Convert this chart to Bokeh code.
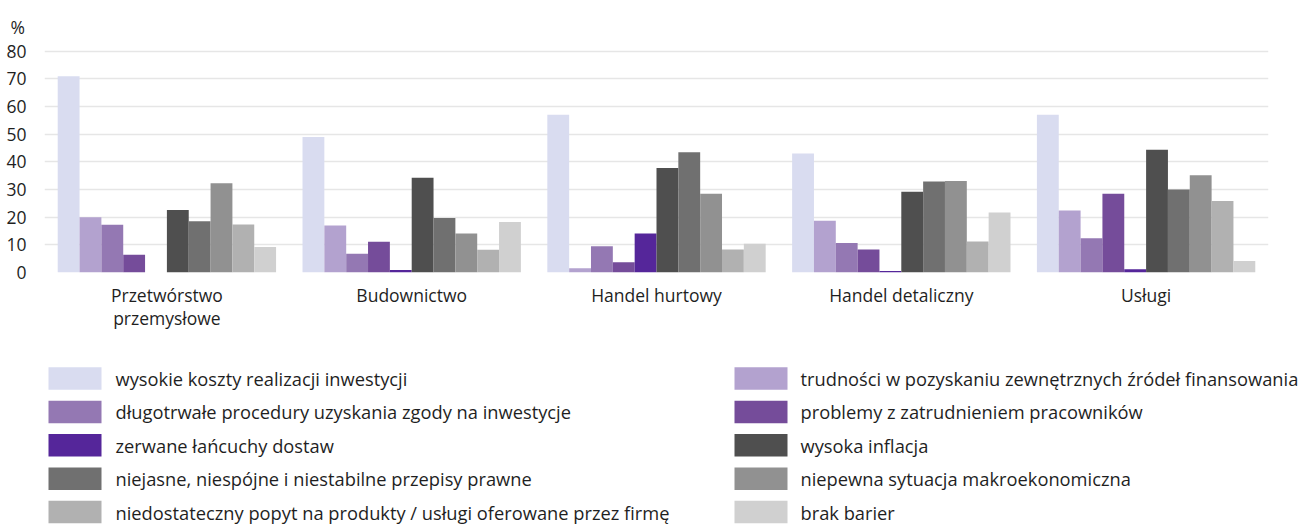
from bokeh.plotting import figure
from bokeh.models import ColumnDataSource, FactorRange, Range1d, FixedTicker
from bokeh.transform import dodge
from bokeh.layouts import column
from bokeh.core.properties import value
from bokeh.embed import file_html
from bokeh.resources import INLINE

# ---------------- data ----------------
categories = ["Przetwórstwo\nprzemysłowe", "Budownictwo", "Handel hurtowy",
              "Handel detaliczny", "Usługi"]

wysokie_koszty = [71, 49, 57, 43, 57]
trudnosci_finansowanie = [20, 17, 1.5, 18.7, 22.4]
dlugotrwale_procedury = [17.3, 6.8, 9.5, 10.7, 12.4]
problemy_zatrudnienie = [6.4, 11.1, 3.7, 8.3, 28.5]
zerwane_lancuchy = [0, 0.9, 14.1, 0.5, 1.2]
wysoka_inflacja = [22.6, 34.3, 37.8, 29.2, 44.4]
niejasne_przepisy = [18.5, 19.7, 43.5, 32.9, 30.0]
niepewna_sytuacja = [32.3, 14.1, 28.5, 33.1, 35.2]
niedostateczny_popyt = [17.4, 8.2, 8.3, 11.2, 25.9]
brak_barier = [9.2, 18.3, 10.4, 21.7, 4.2]

series_labels = [
    "wysokie koszty realizacji inwestycji",
    "trudności w pozyskaniu zewnętrznych źródeł finansowania",
    "długotrwałe procedury uzyskania zgody na inwestycje",
    "problemy z zatrudnieniem pracowników",
    "zerwane łańcuchy dostaw",
    "wysoka inflacja",
    "niejasne, niespójne i niestabilne przepisy prawne",
    "niepewna sytuacja makroekonomiczna",
    "niedostateczny popyt na produkty / usługi oferowane przez firmę",
    "brak barier",
]
series_values = [wysokie_koszty, trudnosci_finansowanie, dlugotrwale_procedury,
                 problemy_zatrudnienie, zerwane_lancuchy, wysoka_inflacja,
                 niejasne_przepisy, niepewna_sytuacja, niedostateczny_popyt,
                 brak_barier]
colors = ["#d9dcf0", "#b3a2cf", "#9478b3", "#754c9a", "#55269a",
          "#4f4f4f", "#707070", "#919191", "#b1b1b1", "#d0d0d0"]

y_ticks = [0, 10, 20, 30, 40, 50, 60, 70, 80]

FONT = "Open Sans"
FS = "17.5px"
FS_LEG = "18.3px"
TXT = "#1f1f1f"
W = 1299
H_TOTAL = 524
H1 = 344
LEFT, RIGHT = 44, 31   # frame from x=44 to x=1268

# ---------------- main chart ----------------
data = {"cat": categories}
keys = []
for i, vals in enumerate(series_values):
    k = f"s{i}"
    keys.append(k)
    data[k] = vals
src = ColumnDataSource(data)

p = figure(x_range=FactorRange(*categories, range_padding=0),
           y_range=Range1d(0, 81),
           width=W, height=H1, output_backend="svg", toolbar_location=None,
           min_border_left=LEFT, min_border_right=RIGHT, min_border_top=48,
           min_border_bottom=H1 - 272)

n = len(series_values)
bw = 0.892 / n
for i, k in enumerate(keys):
    off = (i - (n - 1) / 2) * bw
    p.vbar(x=dodge("cat", off, range=p.x_range), top=k, width=bw,
           source=src, fill_color=colors[i], line_color=None)

p.outline_line_color = None
p.xgrid.grid_line_color = None
p.ygrid.grid_line_color = "#e6e6e6"
p.ygrid.grid_line_width = 1.5
p.yaxis.ticker = FixedTicker(ticks=y_ticks)
p.yaxis.axis_line_color = None
p.yaxis.major_tick_line_color = None
p.yaxis.minor_tick_line_color = None
p.yaxis.major_label_standoff = 12
p.yaxis.major_label_text_font = FONT
p.yaxis.major_label_text_font_size = FS
p.yaxis.major_label_text_color = TXT

p.xaxis.axis_line_color = None
p.xaxis.major_tick_line_color = None
p.xaxis.minor_tick_line_color = None
p.xaxis.major_label_standoff = 4
p.xaxis.major_label_text_font = FONT
p.xaxis.major_label_text_font_size = FS
p.xaxis.major_label_text_line_height = 0.965
p.xaxis.major_label_text_color = TXT

p.title.text = "%"
p.title.align = "left"
p.title.offset = -34
p.title.standoff = 20
p.title.text_font = FONT
p.title.text_font_size = FS
p.title.text_font_style = "normal"
p.title.text_color = TXT

# ---------------- legend ----------------
LH = H_TOTAL - H1
lg = figure(width=W, height=LH,
            x_range=Range1d(LEFT, W - RIGHT), y_range=Range1d(H_TOTAL, H1),
            output_backend="svg", toolbar_location=None,
            min_border_left=LEFT, min_border_right=RIGHT,
            min_border_top=0, min_border_bottom=0)
lg.axis.visible = False
lg.grid.visible = False
lg.outline_line_color = None

sw_left = [48, 734]
tx_left = [115, 800]
sw_w, sw_h = 53, 22.5
row_y0, row_dy = 378, 33.4
rx, ry, tx, ty = [], [], [], []
for i in range(n):
    c, r = i % 2, i // 2
    rx.append(sw_left[c] + sw_w / 2)
    ry.append(row_y0 + r * row_dy)
    tx.append(tx_left[c])
    ty.append(row_y0 + r * row_dy)
lsrc = ColumnDataSource(dict(x=rx, y=ry, tx=tx, ty=ty, c=colors, lab=series_labels))
lg.rect(x="x", y="y", width=sw_w, height=sw_h, fill_color="c", line_color=None,
        source=lsrc, level="overlay")
lg.text(x="tx", y="ty", text="lab", source=lsrc, text_baseline="middle",
        text_align="left", text_font=value(FONT), text_font_size=FS_LEG,
        text_color=TXT, level="overlay")

layout = column(p, lg, spacing=0)
open("out.html", "w").write(file_html(layout, INLINE))
